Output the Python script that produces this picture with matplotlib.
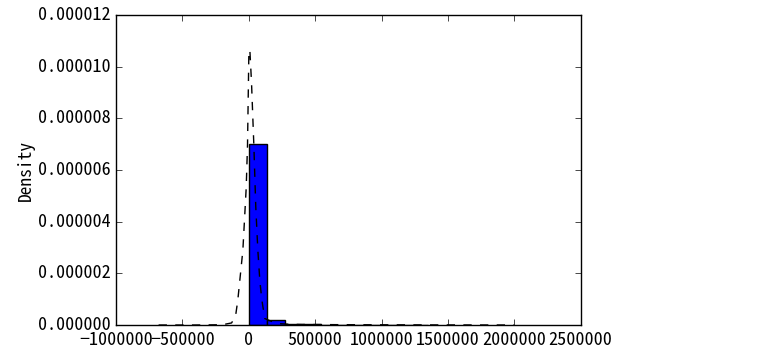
import matplotlib
matplotlib.use("Agg")
import matplotlib.pyplot as plt
from matplotlib.ticker import FuncFormatter, FormatStrFormatter
import numpy as np

plt.style.use("classic")
plt.rcParams['font.family'] = ['Noto Sans Mono CJK SC', 'Noto Sans CJK SC', 'DejaVu Sans']
plt.rcParams['axes.unicode_minus'] = True

# histogram: 10 bins of ~135000 starting at 0 (density values)
bin_edges = [0, 135000, 270000, 405000, 540000, 675000,
             810000, 945000, 1080000, 1215000, 1350000]
bar_heights = [7.02e-6, 0.20e-6, 0.04e-6, 0.02e-6, 0.012e-6,
               0.01e-6, 0.006e-6, 0.005e-6, 0.004e-6, 0.003e-6]

# kde curve
kde_x = [-680000, -400000, -200000, -130000, -100000, -83000, -45000,
         -20000, -10000, 0, 7500, 20000, 37600, 52000, 67700, 83000,
         98000, 120000, 180000, 233000, 300000, 400000, 600000, 800000,
         1000000, 1300000, 1600000, 2000000]
kde_y = [0.0, 0.0, 0.01e-6, 0.08e-6, 0.35e-6, 0.97e-6, 2.9e-6,
         5.3e-6, 6.97e-6, 10.5e-6, 10.65e-6, 9.4e-6, 6.97e-6, 4.6e-6,
         2.9e-6, 1.7e-6, 0.97e-6, 0.25e-6, 0.12e-6, 0.05e-6, 0.03e-6,
         0.02e-6, 0.015e-6, 0.01e-6, 0.008e-6, 0.005e-6, 0.003e-6, 0.0]

fig = plt.figure(figsize=(7.64, 3.61), dpi=100)
ax = fig.add_axes([0.152, 0.0997, 0.608, 0.8587])

ax.bar(bin_edges[:-1], bar_heights, width=np.diff(bin_edges), align="edge",
       color="b", edgecolor="k", linewidth=1.0)
ax.plot(kde_x, kde_y, "k--", linewidth=1.0)

ax.set_xlim(-1000000, 2500000)
ax.set_ylim(0, 0.000012)
ax.set_xticks(np.arange(-1000000, 2500001, 500000))
ax.set_yticks(np.arange(0, 0.0000121, 0.000002))
ax.xaxis.set_major_formatter(FuncFormatter(lambda v, p: ("%d" % v).replace("-", "\u2212")))
ax.yaxis.set_major_formatter(FormatStrFormatter("%.6f"))
ax.tick_params(direction="in", length=4, labelsize=13, top=True, right=True)
ax.set_ylabel("Density", fontsize=12.5, labelpad=2)

fig.savefig("out.png", dpi=100, facecolor="white")
